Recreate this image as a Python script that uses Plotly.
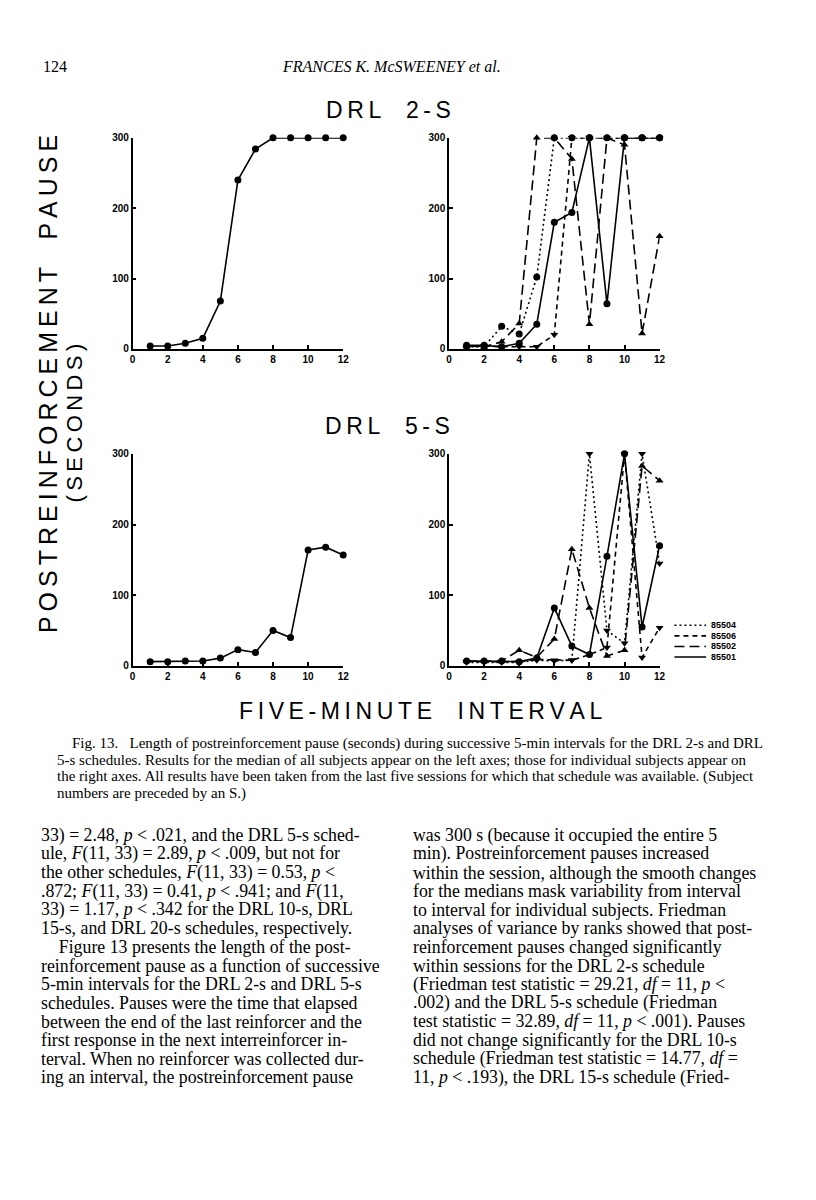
import plotly.graph_objects as go

"""
Fig. 13 - postreinforcement pause per 5-min interval, DRL 2-s and DRL 5-s
"""

intervals = [1, 2, 3, 4, 5, 6, 7, 8, 9, 10, 11, 12]

# DRL 2-s
drl2_median = [4, 4, 8, 15, 68, 240, 284, 300, 300, 300, 300, 300]
drl2_85501 = [5, 5, 3, 8, 35, 180, 194, 300, 64, 300, 300, 300]
drl2_85502 = [4, 3, 10, 36, 300, 300, 270, 35, 300, 290, 22, 160]
drl2_85504 = [3, 3, 32, 21, 102, 300, 300, 300, 300, 300, 300, 300]
drl2_85506 = [3, 4, 3, 3, 3, 20, 300, 300, 300, 300, 300, 300]

# DRL 5-s
drl5_median = [6, 6, 7, 7, 11, 23, 19, 50, 40, 164, 168, 157]
drl5_85501 = [7, 7, 7, 6, 11, 82, 28, 16, 155, 300, 55, 170]
drl5_85502 = [7, 7, 7, 22, 12, 38, 165, 82, 14, 22, 283, 262]
drl5_85504 = [5, 5, 5, 5, 8, 7, 8, 300, 50, 32, 300, 145]
drl5_85506 = [6, 6, 6, 6, 9, 8, 8, 16, 26, 300, 12, 54]

subjects = ['85504', '85506', '85502', '85501']
subject_dash = {'85504': '2px,3px', '85506': '5px,4px', '85502': '10px,5px', '85501': 'solid'}
symbols_drl2 = {'85504': 'circle', '85506': 'triangle-down', '85502': 'triangle-up', '85501': 'circle'}
symbols_drl5 = {'85504': 'triangle-down', '85506': 'triangle-down', '85502': 'triangle-up', '85501': 'circle'}

x_ticks = [0, 2, 4, 6, 8, 10, 12]
y_ticks = [0, 100, 200, 300]

header_left = "124"
header_center = "<i>FRANCES K. McSWEENEY et al.</i>"

caption_lines = [
    "Fig. 13.   Length of postreinforcement pause (seconds) during successive 5-min intervals for the DRL 2-s and DRL",
    "5-s schedules. Results for the median of all subjects appear on the left axes; those for individual subjects appear on",
    "the right axes. All results have been taken from the last five sessions for which that schedule was available. (Subject",
    "numbers are preceded by an S.)",
]

left_col = [
    "33) = 2.48, <i>p</i> < .021, and the DRL 5-s sched-",
    "ule, <i>F</i>(11, 33) = 2.89, <i>p</i> < .009, but not for",
    "the other schedules, <i>F</i>(11, 33) = 0.53, <i>p</i> <",
    ".872; <i>F</i>(11, 33) = 0.41, <i>p</i> < .941; and <i>F</i>(11,",
    "33) = 1.17, <i>p</i> < .342 for the DRL 10-s, DRL",
    "15-s, and DRL 20-s schedules, respectively.",
    "    Figure 13 presents the length of the post-",
    "reinforcement pause as a function of successive",
    "5-min intervals for the DRL 2-s and DRL 5-s",
    "schedules. Pauses were the time that elapsed",
    "between the end of the last reinforcer and the",
    "first response in the next interreinforcer in-",
    "terval. When no reinforcer was collected dur-",
    "ing an interval, the postreinforcement pause",
]

right_col = [
    "was 300 s (because it occupied the entire 5",
    "min). Postreinforcement pauses increased",
    "within the session, although the smooth changes",
    "for the medians mask variability from interval",
    "to interval for individual subjects. Friedman",
    "analyses of variance by ranks showed that post-",
    "reinforcement pauses changed significantly",
    "within sessions for the DRL 2-s schedule",
    "(Friedman test statistic = 29.21, <i>df</i> = 11, <i>p</i> <",
    ".002) and the DRL 5-s schedule (Friedman",
    "test statistic = 32.89, <i>df</i> = 11, <i>p</i> < .001). Pauses",
    "did not change significantly for the DRL 10-s",
    "schedule (Friedman test statistic = 14.77, <i>df</i> =",
    "11, <i>p</i> < .193), the DRL 15-s schedule (Fried-",
]

# the page body has an 8px margin, so the figure is 16px smaller than the window
OFF = 8
W, H = 816 - 2 * OFF, 1200 - 2 * OFF


def fx(x):
    return (x - OFF) / W


def fy(y):
    return 1 - (y - OFF) / H


def spaced(s):
    # the figure lettering is very wide, pad it with thin spaces
    return '\u2009'.join(s)


fig = go.Figure()

panels = [
    ('x', 'y', {'median': drl2_median}, None),
    ('x2', 'y2', {'85501': drl2_85501, '85502': drl2_85502, '85504': drl2_85504, '85506': drl2_85506}, symbols_drl2),
    ('x3', 'y3', {'median': drl5_median}, None),
    ('x4', 'y4', {'85501': drl5_85501, '85502': drl5_85502, '85504': drl5_85504, '85506': drl5_85506}, symbols_drl5),
]

for xa, ya, series, symbols in panels:
    for name, vals in series.items():
        if name == 'median':
            dash, symbol = 'solid', 'circle'
        else:
            dash, symbol = subject_dash[name], symbols[name]
        fig.add_trace(go.Scatter(
            x=intervals, y=vals, xaxis=xa, yaxis=ya,
            mode='lines+markers', name=name,
            line=dict(color='black', width=1.6, dash=dash),
            marker=dict(color='black', size=7, symbol=symbol),
            cliponaxis=False,
            showlegend=False))

axis_style = dict(
    showline=True, linecolor='black', linewidth=1.6,
    showgrid=False, zeroline=False,
    ticks='inside', ticklen=4, tickwidth=1.5, tickcolor='black',
    tickfont=dict(family='Liberation Sans', size=10, color='black', weight='bold'),
)

left_dom = [fx(131), fx(344)]
right_dom = [fx(451), fx(664)]
top_dom = [fy(347), fy(134)]
bot_dom = [fy(667), fy(453)]

layout_axes = {}
for i, (xd, yd) in enumerate([(left_dom, top_dom), (right_dom, top_dom),
                               (left_dom, bot_dom), (right_dom, bot_dom)]):
    sfx = '' if i == 0 else str(i + 1)
    layout_axes['xaxis' + sfx] = dict(axis_style, domain=xd, range=[0, 12], tickvals=x_ticks,
                                      anchor='y' + sfx)
    layout_axes['yaxis' + sfx] = dict(axis_style, domain=yd, range=[0, 300], tickvals=y_ticks,
                                      anchor='x' + sfx)

fig.update_layout(**layout_axes)

annotations = []
shapes = []


def add_text(text, x, y, size, family='Liberation Serif', xanchor='left', angle=0, weight='normal'):
    annotations.append(dict(text=text, x=fx(x), y=fy(y), xref='paper', yref='paper',
                            xanchor=xanchor, yanchor='middle', showarrow=False,
                            textangle=angle,
                            font=dict(family=family, size=size, color='black', weight=weight)))


add_text(header_left, 38, 62, 16)
add_text(header_center, 393, 62, 16, xanchor='center')

add_text(spaced('DRL') + '    ' + spaced('2-S'), 390, 106, 23, family='Liberation Sans', xanchor='center')
add_text(spaced('DRL') + '    ' + spaced('5-S'), 389, 425, 23, family='Liberation Sans', xanchor='center')
add_text(spaced('POSTREINFORCEMENT') + '    ' + spaced('PAUSE'), 45, 383, 25,
         family='Liberation Sans', xanchor='center', angle=-90)
add_text(spaced('(SECONDS)'), 72, 422, 22, family='Liberation Sans', xanchor='center', angle=-90)
add_text(spaced('FIVE-MINUTE') + '    ' + spaced('INTERVAL'), 422, 713, 23,
         family='Liberation Sans', xanchor='center')

# subject key, right of the DRL 5-s panel
for i, s in enumerate(subjects):
    ky = 626 + 10.7 * i
    shapes.append(dict(type='line', xref='paper', yref='paper',
                       x0=fx(679), x1=fx(711), y0=fy(ky), y1=fy(ky),
                       line=dict(color='black', width=1.6, dash=subject_dash[s])))
    add_text(s, 714, ky, 9, family='Liberation Sans', weight='bold')

for i, line in enumerate(caption_lines):
    add_text(line, 68 if i == 0 else 53, 745 + 17 * i, 15)

for i, line in enumerate(left_col):
    add_text(line, 36, 838 + 18.8 * i, 17.8)
for i, line in enumerate(right_col):
    add_text(line, 413, 838 + 18.8 * i, 17.8)

fig.update_layout(
    width=W, height=H,
    margin=dict(l=0, r=0, t=0, b=0),
    paper_bgcolor='white', plot_bgcolor='white',
    annotations=annotations,
    shapes=shapes,
    showlegend=False,
)

fig.write_html("out.html")
